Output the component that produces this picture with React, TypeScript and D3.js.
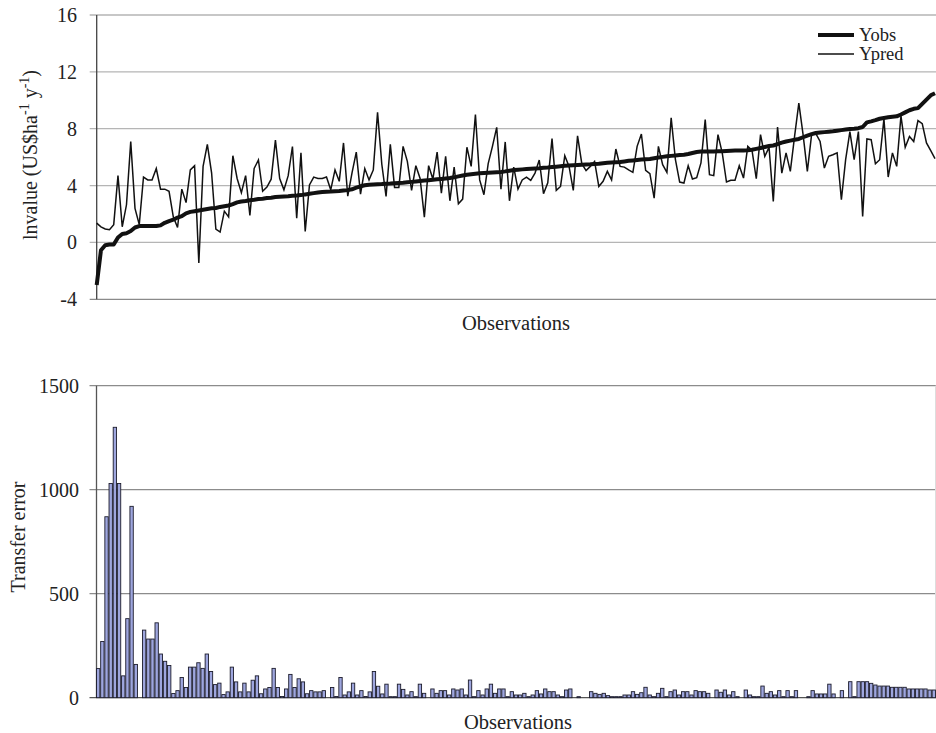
import React from 'react'
import * as d3 from 'd3'

// observed values, sorted (thick line)
const yobs = [
  -3.0, -0.55, -0.2, -0.15, -0.15, 0.35, 0.6, 0.65, 0.8, 1.05,
  1.15, 1.15, 1.15, 1.15, 1.15, 1.2, 1.38, 1.5, 1.6, 1.75,
  1.85, 2.05, 2.15, 2.2, 2.25, 2.3, 2.35, 2.4, 2.42, 2.5,
  2.55, 2.6, 2.7, 2.82, 2.88, 2.92, 2.97, 3.0, 3.05, 3.08,
  3.12, 3.15, 3.2, 3.22, 3.24, 3.25, 3.28, 3.3, 3.33, 3.38,
  3.42, 3.47, 3.52,
  3.55, 3.57, 3.58, 3.6, 3.62, 3.65, 3.68, 3.74, 3.85, 3.95,
  4.02, 4.06, 4.08, 4.1, 4.11, 4.13, 4.14, 4.16, 4.18, 4.2,
  4.23, 4.26, 4.29, 4.32, 4.35, 4.38, 4.41, 4.44, 4.47, 4.5,
  4.53, 4.58, 4.65, 4.71, 4.76, 4.8, 4.83, 4.86, 4.88, 4.9,
  4.92, 4.94, 4.96, 5.0, 5.05, 5.09, 5.12, 5.14, 5.16, 5.18,
  5.2, 5.22, 5.25, 5.27, 5.3, 5.33, 5.36, 5.39, 5.41, 5.43,
  5.45, 5.47, 5.49, 5.5, 5.52, 5.54, 5.57, 5.6, 5.62, 5.64,
  5.66, 5.7, 5.74, 5.77, 5.8, 5.83, 5.85, 5.87, 5.92, 5.97,
  6.02, 6.06, 6.09, 6.12, 6.15, 6.17, 6.22, 6.29, 6.36, 6.4,
  6.4, 6.4, 6.4, 6.41, 6.42, 6.44, 6.45, 6.46, 6.47, 6.47,
  6.48, 6.52, 6.58, 6.64, 6.72, 6.78, 6.82, 6.92, 7.02, 7.1,
  7.16, 7.22, 7.28, 7.4, 7.52, 7.62, 7.7, 7.73, 7.76, 7.79,
  7.82, 7.86, 7.9, 7.94, 7.98, 8.0, 8.04, 8.12, 8.45, 8.52,
  8.6, 8.7, 8.76, 8.8, 8.84, 8.87, 9.0, 9.15, 9.3, 9.4,
  9.45, 9.75, 10.05, 10.35, 10.5,
]

// predicted values (thin line)
const ypred = [
  1.36, 1.1, 0.95, 0.9, 1.25, 4.7, 1.1, 2.65, 7.1, 2.4,
  1.25, 4.6, 4.4, 4.4, 5.2, 3.75, 3.75, 3.6, 1.8, 1.05,
  3.75, 2.8, 5.1, 5.4, -1.45, 5.35, 6.9, 4.9, 0.94, 0.73,
  2.2, 1.8, 6.1, 4.5, 3.5, 4.7, 1.9, 5.2, 5.8, 3.6,
  3.9, 4.45, 7.2, 4.5, 3.7, 4.7, 6.75, 1.7, 6.3, 0.77,
  4.05, 4.6, 4.5, 4.5, 4.6, 3.7, 5.1, 4.3, 7.0, 3.25,
  4.9, 6.35, 3.4, 5.2, 4.4, 5.1, 9.15, 5.5,
  3.24, 6.9, 3.87, 3.87, 6.76, 5.7, 3.66, 5.4, 4.5, 1.78,
  5.4, 4.46, 6.36, 3.47, 6.06, 2.93, 5.3, 2.72, 3.05, 6.7,
  5.35, 9.0, 4.4, 3.36, 5.54, 6.76, 8.1, 3.75, 7.07, 2.93,
  5.3, 3.75, 4.4, 4.6, 4.37, 4.88, 5.8, 3.43, 4.2, 7.3,
  3.66, 3.94, 6.1, 5.35, 3.66, 7.5, 5.54, 5.05, 5.35, 5.7,
  3.94, 4.3, 5.0, 4.4, 6.57, 5.35, 5.3, 5.1, 4.93, 6.76,
  7.63, 5.07, 4.84, 3.12, 6.76,
  5.47, 4.93, 8.76, 5.82, 4.25, 4.18, 5.4, 4.46, 4.55, 5.59,
  8.64, 4.77, 4.7, 7.58, 6.3, 4.25, 4.37, 4.37, 5.4, 4.53,
  6.76, 6.48, 4.48, 7.58, 6.06, 6.69, 2.89, 8.12, 4.88, 6.3,
  5.0, 7.46, 9.8, 7.58, 5.0, 7.58, 7.65, 7.1, 5.23, 6.06,
  6.17, 6.3, 3.0, 5.82, 7.8, 5.82, 7.8, 1.83, 7.28, 7.23,
  5.54, 5.82, 8.69, 4.6, 6.3, 5.35, 8.9, 6.69, 7.46, 7.1,
  8.57, 8.36, 7.0, 6.46, 5.9,
]

// transfer error per observation (bars)
const transferError = [
  140, 270, 870, 1030, 1300, 1030, 105, 380, 920, 160,
  0, 325, 282, 282, 360, 210, 175, 155, 20, 34,
  97, 49, 147, 147, 168, 141, 210, 126, 63, 70,
  15, 28, 147, 76, 28, 70, 28, 84, 105, 19,
  42, 49, 141, 49, 6, 42, 112, 49, 91, 76,
  19, 34, 28, 28, 34, 0, 49, 6, 97, 13,
  28, 70, 13, 34, 6, 28, 126, 55,
  18, 65, 5, 5, 65, 40, 13, 29, 5, 65,
  21, 0, 42, 21, 34, 34, 13, 42, 37, 42,
  13, 85, 5, 34, 13, 42, 65, 21, 42, 42,
  5, 29, 13, 13, 21, 5, 13, 34, 18, 42,
  29, 29, 13, 5, 37, 42, 0, 5, 0, 0,
  29, 21, 16, 21, 10, 5, 5, 5, 13, 13,
  29, 16, 24, 50, 13, 5, 21,
  45, 5, 29, 37, 13, 29, 29, 13, 34, 29,
  29, 21, 0, 37, 26, 37, 13, 29, 5, 0,
  37, 13, 5, 5, 56, 21, 29, 13, 34, 5,
  34, 5, 34, 0, 0, 5, 34, 18, 18, 18,
  65, 18, 0, 34, 0, 77, 5, 77, 77, 77,
  69, 61, 56, 56, 56, 50, 50, 50, 50, 42,
  42, 42, 42, 42, 37, 37,
]

const topTicks = [-4, 0, 4, 8, 12, 16]
const bottomTicks = [0, 500, 1000, 1500]
const legendItems = ['Yobs', 'Ypred']

const serif = { fontFamily: "'Liberation Serif', 'Times New Roman', Times, serif" }

export default function App() {
  const W = 936
  const H = 733

  // top panel
  const x1 = d3.scalePoint<number>().domain(d3.range(yobs.length)).range([96.7, 935])
  const y1 = d3.scaleLinear().domain([-4, 16]).range([299.3, 15])
  // bottom panel
  const x2 = d3.scaleBand<number>().domain(d3.range(transferError.length)).range([96.5, 935.5]).paddingInner(0.2)
  const y2 = d3.scaleLinear().domain([0, 1500]).range([697.7, 385.7])

  const line = d3.line<number>().x((_, i) => x1(i)!).y(d => y1(d))

  const left1 = x1.range()[0]
  const left2 = x2.range()[0]

  return (
    <svg width={W} height={H} style={{ position: 'absolute', left: 0, top: 0, background: '#fff' }}>
      {/* top chart */}
      <g>
        {topTicks.map(t => (
          <g key={t}>
            <line x1={left1 - 7} x2={936} y1={y1(t)} y2={y1(t)}
              stroke={t === -4 ? '#8a8a8a' : '#b5b5b5'} strokeWidth={1.3} />
            <text x={77} y={y1(t)} dy="0.35em" textAnchor="end" fontSize={20} fill="#222" style={serif}>{t}</text>
          </g>
        ))}
        <line x1={left1} x2={left1} y1={y1(16)} y2={y1(-4)} stroke="#444" strokeWidth={1.3} />
        <path d={line(ypred) || ''} fill="none" stroke="#111" strokeWidth={1.5} />
        <path d={line(yobs) || ''} fill="none" stroke="#111" strokeWidth={4} strokeLinejoin="round" />

        {legendItems.map((name, i) => (
          <g key={name}>
            <line x1={818} x2={854} y1={35 + i * 19} y2={35 + i * 19} stroke="#111" strokeWidth={i === 0 ? 4 : 1.5} />
            <text x={859} y={35 + i * 19} dy="0.35em" fontSize={18.5} fill="#222" style={serif}>{name}</text>
          </g>
        ))}

        <text x={516} y={330} textAnchor="middle" fontSize={20.5} fill="#222" style={serif}>Observations</text>
        <text transform="translate(37, 155) rotate(-90)" textAnchor="middle" fontSize={20} fill="#222" style={serif}>
          lnvalue (US$ha<tspan fontSize={14} dy={-8}>-1</tspan><tspan dy={8}> y</tspan><tspan fontSize={14} dy={-8}>-1</tspan><tspan dy={8}>)</tspan>
        </text>
      </g>

      {/* bottom chart */}
      <g>
        {bottomTicks.map(t => (
          <g key={t}>
            <line x1={left2 - 7} x2={936} y1={y2(t)} y2={y2(t)} stroke={t === 0 ? '#555' : '#8c8c8c'} strokeWidth={1.3} />
            <text x={79} y={y2(t)} dy="0.35em" textAnchor="end" fontSize={20} fill="#222" style={serif}>{t}</text>
          </g>
        ))}
        <line x1={left2} x2={left2} y1={y2(1500)} y2={y2(0)} stroke="#555" strokeWidth={1.3} />
        <line x1={935.5} x2={935.5} y1={y2(1500)} y2={y2(0)} stroke="#ddd" strokeWidth={1} />
        {transferError.map((v, i) => (
          v > 0 ? (
            <rect key={i} x={x2(i)!} y={y2(v)} width={x2.bandwidth()} height={Math.max(1, y2(0) - y2(v))}
              fill="#9ea6de" stroke="#1c1c2c" strokeWidth={0.9} />
          ) : null
        ))}
        <text x={518} y={729} textAnchor="middle" fontSize={20.5} fill="#222" style={serif}>Observations</text>
        <text transform="translate(25, 537) rotate(-90)" textAnchor="middle" fontSize={20} fill="#222" style={serif}>Transfer error</text>
      </g>
    </svg>
  )
}
